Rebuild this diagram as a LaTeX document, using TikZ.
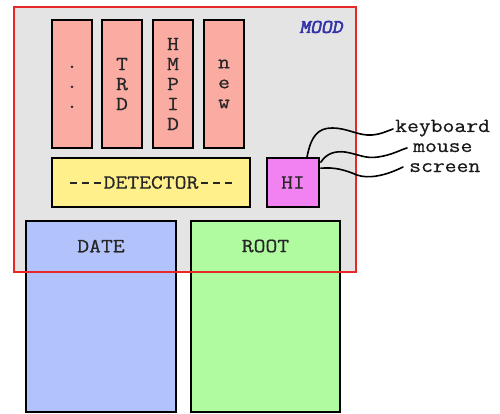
\documentclass[tikz,border=0pt]{standalone}
\usepackage{fontspec}
\setmainfont{Liberation Serif}
\newfontfamily\courfont[FakeStretch=1.15,FakeBold=0.6,Ligatures=NoCommon]{Latin Modern Mono}
\newfontfamily\moodfont[FakeStretch=1.1,FakeBold=3,FakeSlant=0.2]{Latin Modern Mono}
\newcommand\cdash{\makebox[12pt]{\rule[5pt]{7pt}{1.5pt}}}
\usetikzlibrary{calc}
\definecolor{pinkbox}{RGB}{250,172,162}
\definecolor{yellowbox}{RGB}{255,240,140}
\definecolor{hibox}{RGB}{242,130,242}
\definecolor{datebox}{RGB}{178,194,250}
\definecolor{rootbox}{RGB}{176,250,160}
\definecolor{moodbg}{RGB}{228,228,228}
\definecolor{moodred}{RGB}{230,40,40}
\definecolor{moodblue}{RGB}{50,50,170}
\tikzset{
  box/.style={draw=black, line width=1.6pt, inner sep=0pt, text=black!85,
    font=\fontsize{20}{20}\selectfont\courfont},
  detbox/.style={box, fill=pinkbox, minimum width=40pt, minimum height=128pt, align=center},
  boxtext/.style={inner sep=0pt, text=black!85, font=\fontsize{20}{20}\selectfont\courfont},
  labeltext/.style={inner sep=0pt, anchor=base west, text=black!90, font=\fontsize{20}{20}\selectfont\courfont},
  cable/.style={draw=black, line width=1.6pt, line cap=round}
}
\begin{document}
\begin{tikzpicture}[x=1pt,y=-1pt]
\useasboundingbox (0,0) rectangle (500,414);
% MOOD background
\fill[moodbg] (14,7) rectangle (356,272);
% lower boxes
\node[box, fill=datebox, minimum width=150pt, minimum height=191pt] (date) at (101,316.5) {};
\node[boxtext] (datelbl) at (101,246) {DATE};
\node[box, fill=rootbox, minimum width=149pt, minimum height=191pt] (root) at (265.5,316.5) {};
\node[boxtext] (rootlbl) at (265.5,246) {ROOT};
% detector boxes
\node[detbox] (dots) at (72,84) {\raisebox{4pt}{\begin{tabular}{@{}c@{}}.\\.\\.\end{tabular}}};
\node[detbox] (trd) at (122,84) {T\\R\\D};
\node[detbox] (hmpid) at (173,84) {H\\M\\P\\I\\D};
\node[detbox] (new) at (224,84) {n\\e\\w};
\node[box, fill=yellowbox, minimum width=198pt, minimum height=49pt] (det) at (151,182.5) {\cdash\cdash\cdash DETECTOR\cdash\cdash\cdash};
\node[box, fill=hibox, minimum width=52pt, minimum height=49pt] (hi) at (293,182.5) {HI};
% MOOD frame
\node[inner sep=0pt, text=moodblue, font=\fontsize{19}{19}\selectfont\moodfont] (moodlbl) at (321,27) {MOOD};
\draw[moodred, line width=1.6pt] (14,7) rectangle (356,272);
% labels
\node[labeltext] (kb) at (395,132) {keyboard};
\node[labeltext] (mouse) at (413,152) {mouse};
\node[labeltext] (screen) at (409,172) {screen};
\coordinate (kbend) at (393,129);
\coordinate (mouseend) at (407,148);
\coordinate (screenend) at (403,167);
% cables
\draw[cable] ($(hi.north)+(14,0)$) .. controls (311,136) and (318,128) .. (332,128)
  .. controls (348,128) and (358,136) .. (372,135) .. controls (382,134) and (387,131) .. (kbend);
\draw[cable] ($(hi.north east)+(1,5)$) .. controls (327,153) and (335,151) .. (345,152)
  .. controls (358,154) and (365,159) .. (378,157) .. controls (392,155) and (400,150) .. (mouseend);
\draw[cable] ($(hi.north east)+(1,11)$) .. controls (335,167) and (345,170) .. (357,175)
  .. controls (368,179) and (385,176) .. (screenend);
\end{tikzpicture}
\end{document}
